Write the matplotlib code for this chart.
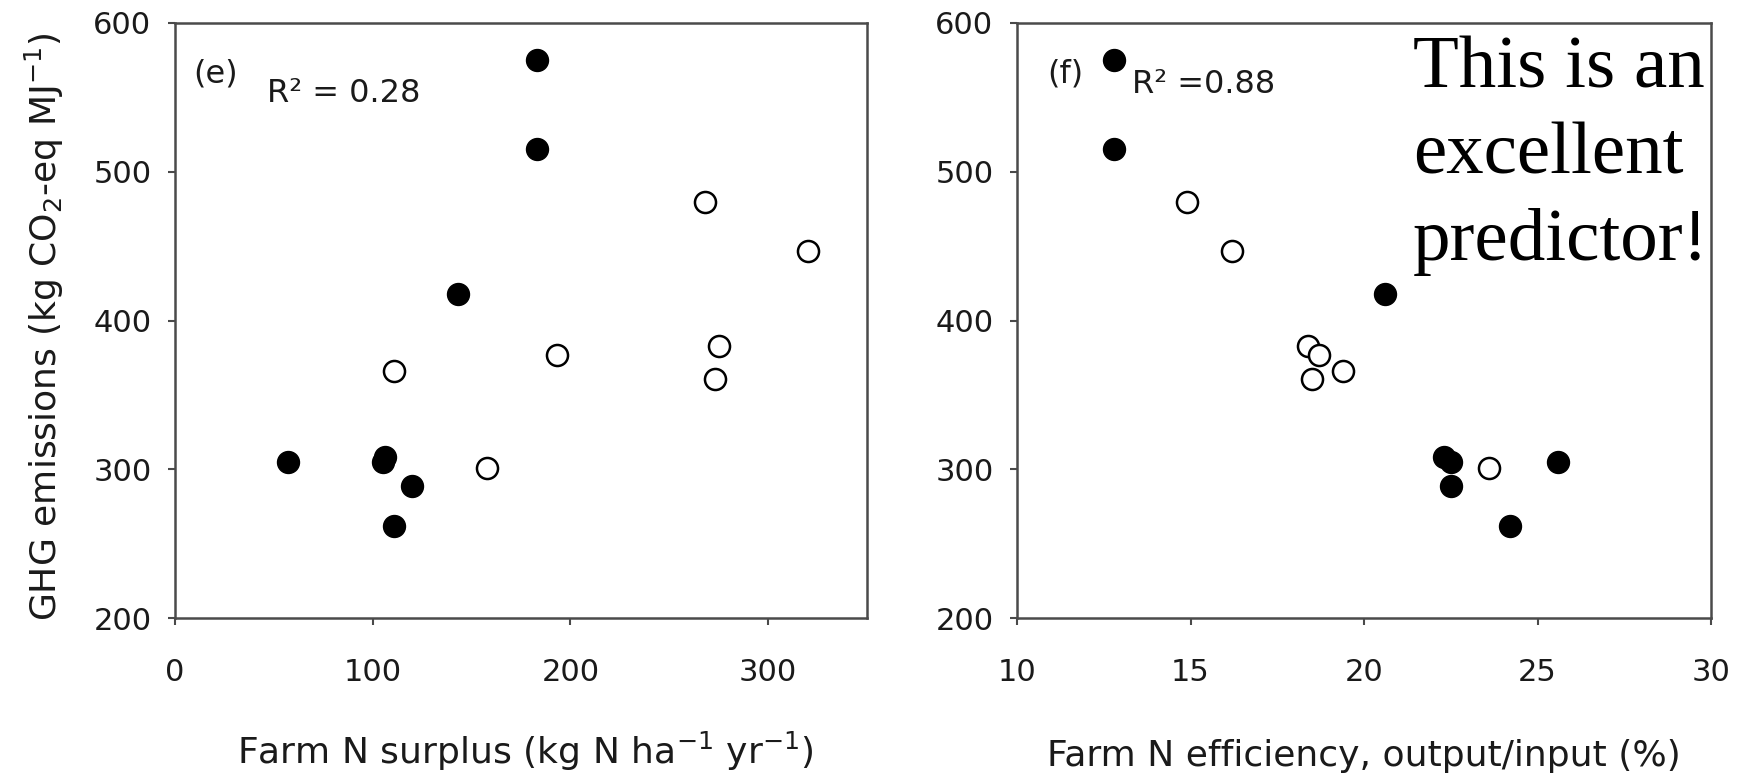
import matplotlib
matplotlib.use("Agg")
import matplotlib.pyplot as plt

# panel (e): farm N surplus vs GHG emissions
surplus_filled = [57, 105, 106, 120, 111, 143, 183, 183]
ghg_filled_e = [305, 305, 308, 289, 262, 418, 515, 575]
surplus_open = [111, 158, 193, 268, 273, 275, 320]
ghg_open_e = [366, 301, 377, 480, 361, 383, 447]

# panel (f): farm N efficiency vs GHG emissions
eff_filled = [12.8, 12.8, 20.6, 22.3, 22.5, 22.5, 24.2, 25.6]
ghg_filled_f = [575, 515, 418, 308, 305, 289, 262, 305]
eff_open = [14.9, 16.2, 18.4, 18.7, 18.5, 19.4, 23.6]
ghg_open_f = [480, 447, 383, 377, 361, 366, 301]

yticks = [200, 300, 400, 500, 600]
xticks_e = [0, 100, 200, 300]
xticks_f = [10, 15, 20, 25, 30]

W, H = 1740, 774
def fx(px):
    return px / W
def fy(py):
    return 1 - py / H

txt = "#1a1a1a"
spine_col = "#4a4a4a"

fig = plt.figure(figsize=(W / 100, H / 100), dpi=100)
ax1 = fig.add_axes([fx(175), fy(618), 692 / W, 595 / H])
ax2 = fig.add_axes([fx(1017), fy(618), 694 / W, 595 / H])

for ax in (ax1, ax2):
    ax.set_ylim(200, 600)
    ax.set_yticks(yticks)
    for s in ax.spines.values():
        s.set_color(spine_col)
        s.set_linewidth(1.8)
    ax.tick_params(direction="out", length=5, width=1.5, color=spine_col,
                   labelsize=22, labelcolor=txt)
    ax.tick_params(axis="x", pad=24)
    ax.tick_params(axis="y", pad=12)

ax1.set_xlim(0, 350)
ax1.set_xticks(xticks_e)
ax1.scatter(surplus_filled, ghg_filled_e, s=250, c="black", edgecolors="black", zorder=3)
ax1.scatter(surplus_open, ghg_open_e, s=230, facecolors="white", edgecolors="black",
            linewidths=1.8, zorder=3)
ax1.text(9, 566, "(e)", fontsize=23, color=txt, va="center")
ax1.text(46.5, 547, "R² = 0.28", fontsize=23, color=txt, va="baseline")

ax2.set_xlim(10, 30)
ax2.set_xticks(xticks_f)
ax2.scatter(eff_filled, ghg_filled_f, s=250, c="black", edgecolors="black", zorder=3)
ax2.scatter(eff_open, ghg_open_f, s=230, facecolors="white", edgecolors="black",
            linewidths=1.8, zorder=3)
ax2.text(10.86, 566, "(f)", fontsize=23, color=txt, va="center")
ax2.text(13.3, 553, "R² =0.88", fontsize=23, color=txt, va="baseline")

# axis titles
fig.text(fx(525), fy(773), "Farm N surplus (kg N ha$^{-1}$ yr$^{-1}$)",
         fontsize=26, color=txt, ha="center", va="bottom")
fig.text(fx(1364), fy(773), "Farm N efficiency, output/input (%)",
         fontsize=26, color=txt, ha="center", va="bottom")
fig.text(fx(44), fy(327), "GHG emissions (kg CO$_2$-eq MJ$^{-1}$)",
         fontsize=26, color=txt, rotation=90, ha="center", va="center")

# overlay comment
for line, base in [("This is an", 87), ("excellent", 173), ("predictor!", 260)]:
    fig.text(fx(1413), fy(base), line, fontsize=54, family="Liberation Serif",
             color="black", ha="left", va="baseline")

fig.savefig("out.png", dpi=100)
